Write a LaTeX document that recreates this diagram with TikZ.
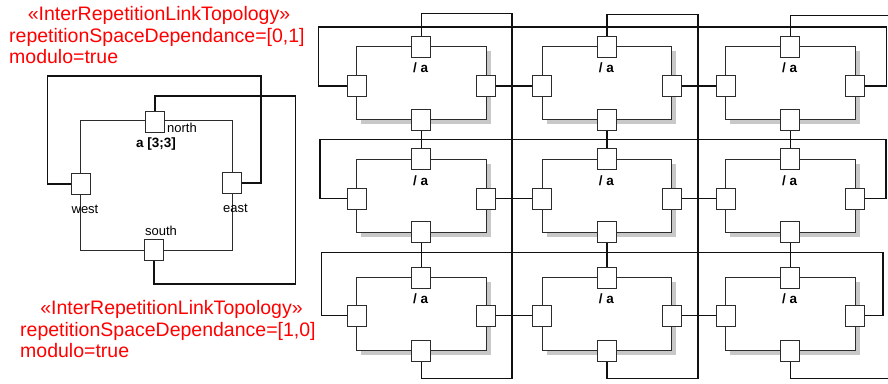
\documentclass[tikz,border=0pt]{standalone}
\usepackage{fontspec}
\setmainfont{Liberation Sans}
\usetikzlibrary{shadows}

\definecolor{linkc}{HTML}{111111}
\definecolor{edgec}{HTML}{2C2C2C}
\definecolor{shadowc}{HTML}{C8C8C8}
\definecolor{notered}{HTML}{FF0000}

\tikzset{
  link/.style={draw=linkc, line width=1.3pt},
  partbox/.style={draw=edgec, fill=white, line width=1pt, inner sep=0pt},
  shadedpart/.style={partbox, minimum width=129.5pt, minimum height=72.8pt,
    drop shadow={shadow xshift=4.5pt, shadow yshift=-4.5pt, fill=shadowc, opacity=1}},
  portbox/.style={draw=edgec, fill=white, line width=1pt, minimum width=19pt,
    minimum height=21pt, inner sep=0pt},
  smalltxt/.style={inner sep=0pt, text=black, font=\fontsize{13}{15}\selectfont},
  boldtxt/.style={smalltxt, font=\fontsize{13.5}{15}\selectfont\bfseries},
  notetxt/.style={inner sep=0pt, text=notered, font=\fontsize{19.5}{22}\selectfont},
}

\begin{document}
\begin{tikzpicture}[x=1pt, y=-1pt]
\useasboundingbox (0,0) rectangle (888,383);
\clip (0,0) rectangle (888,383);

% ---------- notes ----------
\node[notetxt, anchor=base] (st1) at (159,20) {«InterRepetitionLinkTopology»};
\node[notetxt, anchor=base west] (rs1) at (9,42.5) {repetitionSpaceDependance=[0,1]};
\node[notetxt, anchor=base west] (md1) at (9,63.5) {modulo=true};
\node[notetxt, anchor=base] (st2) at (171.5,314.3) {«InterRepetitionLinkTopology»};
\node[notetxt, anchor=base west] (rs2) at (20,336) {repetitionSpaceDependance=[1,0]};
\node[notetxt, anchor=base west] (md2) at (20,357.3) {modulo=true};

% ---------- repeated part a [3;3] ----------
\node[partbox, minimum width=152pt, minimum height=129.3pt] (a) at (156,185.4) {};
\node[portbox] (a-n) at (155,121.5) {};
\node[portbox] (a-w) at (81,184) {};
\node[portbox] (a-e) at (232,183) {};
\node[portbox] (a-s) at (154,250) {};

\coordinate (we-l) at (47.3,76);
\coordinate (we-r) at (261,76);
\draw[link] (a-w.west) -| (we-l) -- (we-r) |- (a-e.east);

\coordinate (ns-t) at (295.7,96);
\coordinate (ns-b) at (295.7,284);
\draw[link] (a-n.north) |- (ns-t) -- (ns-b) -| (a-s.south);

\node[smalltxt, anchor=west] (t-north) at (167,128) {north};
\node[boldtxt] (t-name) at (156,144) {a [3;3]};
\node[smalltxt] (t-west) at (85,209) {west};
\node[smalltxt] (t-east) at (235.5,208) {east};
\node[smalltxt] (t-south) at (161,231) {south};

% ---------- 3x3 expanded repetition ----------
\foreach \r/\top/\py in {0/46.7/86, 1/159.3/198.5, 2/277.7/315.5} {
  \foreach \c/\l in {0/356.7, 1/542.3, 2/725.5} {
    \node[shadedpart] (cell-\r-\c) at ({\l+64.75},{\top+36.4}) {};
    \node[portbox] (n-\r-\c) at ({\l+64.75},\top) {};
    \node[portbox] (s-\r-\c) at ({\l+64.75},{\top+72.8}) {};
    \node[portbox] (w-\r-\c) at (\l,\py) {};
    \node[portbox] (e-\r-\c) at ({\l+129.5},\py) {};
    \node[boldtxt] (lbl-\r-\c) at ({\l+64},{\top+21}) {/ a};
  }
}

% neighbour links inside a row
\foreach \r in {0,1,2} {
  \foreach \c/\d in {0/1, 1/2} {
    \draw[link] (e-\r-\c.east) -- (w-\r-\d.west);
  }
}
% neighbour links inside a column
\foreach \c in {0,1,2} {
  \foreach \r/\s in {0/1, 1/2} {
    \draw[link] (s-\r-\c.south) -- (n-\s-\c.north);
  }
}

% wrap-around links of the rows (modulo)
\foreach \r/\ly/\xl/\xr in {0/27/318.3/886.3, 1/139.3/320/886, 2/252.7/321.7/883} {
  \coordinate (rl-\r) at (\xl,\ly);
  \coordinate (rr-\r) at (\xr,\ly);
  \draw[link] (w-\r-0.west) -| (rl-\r) -- (rr-\r) |- (e-\r-2.east);
}

% wrap-around links of the columns (modulo)
\foreach \c/\cx/\ty in {0/512/13.3, 1/698/14.3, 2/910/15.3} {
  \coordinate (ct-\c) at (\cx,\ty);
  \coordinate (cb-\c) at (\cx,378.8);
  \draw[link] (n-0-\c.north) |- (ct-\c) -- (cb-\c) -| (s-2-\c.south);
}
\end{tikzpicture}
\end{document}
